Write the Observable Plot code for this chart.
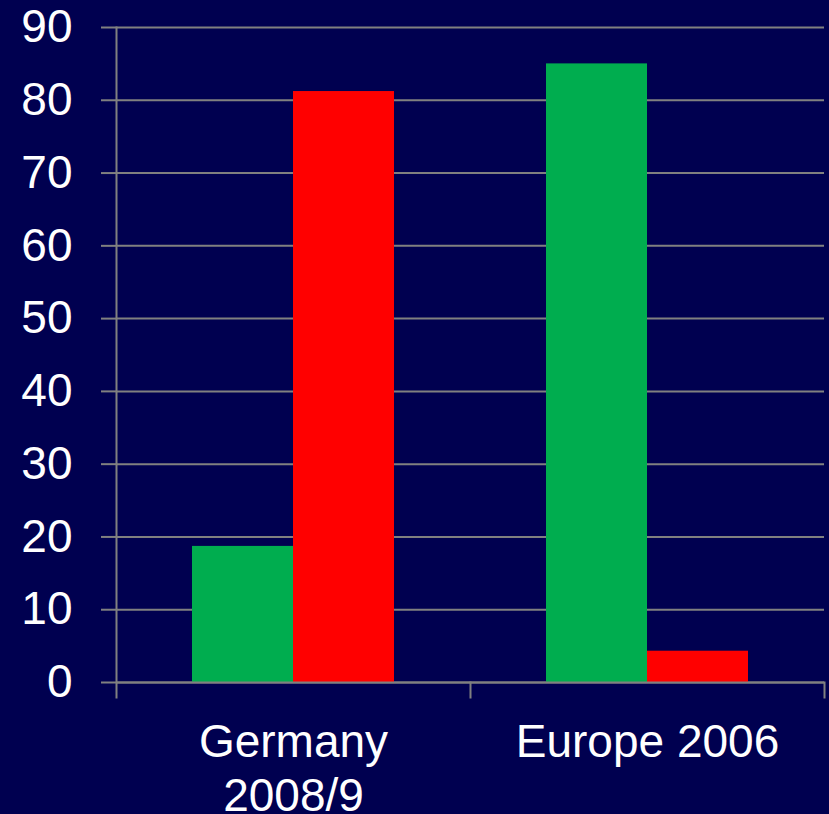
<!DOCTYPE html>
<html>
<head>
<meta charset="utf-8">
<script src="https://cdn.jsdelivr.net/npm/d3@7"></script>
<script src="https://cdn.jsdelivr.net/npm/@observablehq/plot@0.6"></script>
<style>
  html, body { margin: 0; padding: 0; background: #000050; }
  #chart { width: 829px; height: 814px; }
</style>
</head>
<body>
<div id="chart"></div>
<script>
// ---- data ----
const categories = ["Germany 2008/9", "Europe 2006"];
const categoryLabels = ["Germany\n2008/9", "Europe 2006"];
const seriesNames = ["Series 1", "Series 2"];
const series1Values = [18.7, 85.0];
const series2Values = [81.2, 4.3];
const yTicks = [0, 10, 20, 30, 40, 50, 60, 70, 80, 90];

// ---- table built from arrays ----
const rows = [];
categories.forEach((c, i) => {
  rows.push({group: c, series: seriesNames[0], value: series1Values[i]});
  rows.push({group: c, series: seriesNames[1], value: series2Values[i]});
});
const labelOf = new Map(categories.map((c, i) => [c, categoryLabels[i]]));

const W = 829, H = 814, mTop = 27, mBottom = 132, mLeft = 116, mRight = 5;
const gray = "#808080";
const innerH = H - mTop - mBottom;

const chart = Plot.plot({
  width: W,
  height: H,
  marginTop: mTop,
  marginBottom: mBottom,
  marginLeft: mLeft,
  marginRight: mRight,
  style: {background: "#000050", fontFamily: "Arial, 'Liberation Sans', sans-serif", color: "white"},
  fx: {domain: categories, padding: 0, label: null},
  x: {domain: seriesNames, paddingInner: 0, paddingOuter: 0.75, axis: null},
  y: {domain: [0, 90], axis: null},
  color: {domain: seriesNames, range: ["#00AD4F", "#FF0000"]},
  marks: [
    Plot.ruleY(yTicks, {stroke: gray, strokeWidth: 2}),
    Plot.barY(rows, {fx: "group", x: "series", y: "value", fill: "series", inset: 0}),
    Plot.ruleY([0], {stroke: gray, strokeWidth: 2}),
    Plot.frame({anchor: "left", fx: categories[0], stroke: gray, strokeWidth: 2, insetBottom: -15}),
    Plot.frame({anchor: "right", stroke: gray, strokeWidth: 2, insetTop: innerH, insetBottom: -15}),
    Plot.axisY({ticks: yTicks, tickSize: 15, tickPadding: 29, fontSize: 46, fill: "white", stroke: gray, strokeWidth: 2, label: null}),
    Plot.axisFx({anchor: "bottom", tickSize: 0, tickPadding: 36, fontSize: 46, fill: "white", lineHeight: 1.17, label: null, tickFormat: d => labelOf.get(d)})
  ]
});
document.getElementById("chart").appendChild(chart);
</script>
</body>
</html>
